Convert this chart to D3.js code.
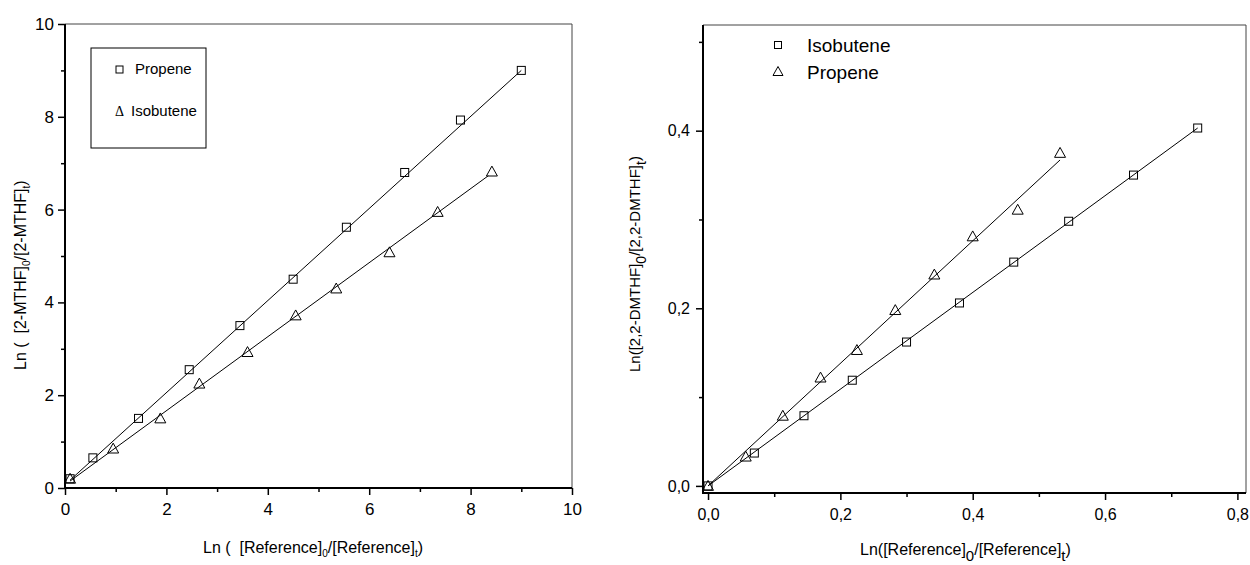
<!DOCTYPE html>
<html>
<head>
<meta charset="utf-8">
<script src="https://d3js.org/d3.v7.min.js"></script>
<style>
  body { margin: 0; background: #fff; }
  svg { display: block; font-family: "Liberation Sans", Arial, sans-serif; }
</style>
</head>
<body>
<svg id="chart" width="1250" height="565"></svg>
<script>
// ---- left panel data: Ln([2-MTHF]0/[2-MTHF]t) vs Ln([Ref]0/[Ref]t)
const leftPropeneX = [0.1, 0.55, 1.45, 2.45, 3.45, 4.5, 5.55, 6.7, 7.8, 9.0];
const leftPropeneY = [0.2, 0.65, 1.5, 2.55, 3.5, 4.5, 5.62, 6.8, 7.93, 9.0];
const leftIsobuteneX = [0.1, 0.95, 1.88, 2.65, 3.6, 4.55, 5.35, 6.4, 7.35, 8.42];
const leftIsobuteneY = [0.2, 0.85, 1.5, 2.25, 2.93, 3.72, 4.3, 5.08, 5.95, 6.82];
const leftPropeneFit = [[0.1, 0.17], [9.0, 9.0]];
const leftIsobuteneFit = [[0.1, 0.15], [8.35, 6.73]];
const leftXTicks = [0, 2, 4, 6, 8, 10];
const leftXMinor = [1, 3, 5, 7, 9];
const leftYTicks = [0, 2, 4, 6, 8, 10];
const leftYMinor = [1, 3, 5, 7, 9];

// ---- right panel data: Ln([2,2-DMTHF]0/[2,2-DMTHF]t)
const rightIsobuteneX = [0, 0.07, 0.145, 0.218, 0.3, 0.38, 0.462, 0.545, 0.643, 0.74];
const rightIsobuteneY = [0, 0.037, 0.079, 0.119, 0.162, 0.206, 0.252, 0.298, 0.35, 0.403];
const rightPropeneX = [0, 0.057, 0.113, 0.17, 0.225, 0.283, 0.342, 0.4, 0.468, 0.532];
const rightPropeneY = [0, 0.033, 0.079, 0.122, 0.153, 0.198, 0.238, 0.281, 0.311, 0.375];
const rightIsobuteneFit = [[0, 0], [0.74, 0.403]];
const rightPropeneFit = [[0, 0], [0.532, 0.367]];
const rightXTicks = [0, 0.2, 0.4, 0.6, 0.8];
const rightXMinor = [0.1, 0.3, 0.5, 0.7];
const rightYTicks = [0, 0.2, 0.4];
const rightYMinor = [0.1, 0.3, 0.5];

const svg = d3.select("#chart");
const zip = (xs, ys) => xs.map((x, i) => [x, ys[i]]);

function squareMarks(g, pts, x, y, s) {
  g.selectAll(null).data(pts).join("rect")
    .attr("x", d => x(d[0]) - s / 2).attr("y", d => y(d[1]) - s / 2)
    .attr("width", s).attr("height", s)
    .attr("fill", "none").attr("stroke", "#000").attr("stroke-width", 1);
}
function triangleMarks(g, pts, x, y, w) {
  const h = w * 0.9;
  g.selectAll(null).data(pts).join("path")
    .attr("d", d => {
      const cx = x(d[0]), cy = y(d[1]);
      return `M${cx},${cy - h * 0.55}L${cx + w / 2},${cy + h * 0.45}L${cx - w / 2},${cy + h * 0.45}Z`;
    })
    .attr("fill", "none").attr("stroke", "#000").attr("stroke-width", 1);
}
function fitLine(g, pts, x, y) {
  g.append("path").datum(pts)
    .attr("d", d3.line().x(d => x(d[0])).y(d => y(d[1])))
    .attr("fill", "none").attr("stroke", "#000").attr("stroke-width", 1);
}

function drawAxes(cfg) {
  const { x, y, xTicks, xMinor, yTicks, yMinor, fmt, fontSize, xPad, yPad } = cfg;
  const [x0, x1] = x.range();
  const [y0, y1] = y.range();
  const g = svg.append("g");
  // top + right frame, thin grey
  g.append("path").attr("d", `M${x0},${y1}H${x1}V${y0}`)
    .attr("fill", "none").attr("stroke", "#444").attr("stroke-width", 1);

  const bottom = g.append("g").attr("transform", `translate(0,${y0})`);
  bottom.call(d3.axisBottom(x).tickValues(xTicks).tickFormat(fmt).tickSize(7).tickPadding(xPad));
  bottom.append("g").call(d3.axisBottom(x).tickValues(xMinor).tickFormat("").tickSize(4))
    .select(".domain").remove();
  const left = g.append("g").attr("transform", `translate(${x0},0)`);
  left.call(d3.axisLeft(y).tickValues(yTicks).tickFormat(fmt).tickSize(7).tickPadding(yPad));
  left.append("g").call(d3.axisLeft(y).tickValues(yMinor).tickFormat("").tickSize(4))
    .select(".domain").remove();

  g.selectAll(".domain").attr("stroke-width", 2).attr("d", null);
  bottom.select(".domain").attr("d", `M${x0 - 1},0H${x1}`);
  left.select(".domain").attr("d", `M0,${y0 + 1}V${y1}`);
  g.selectAll(".tick line").attr("stroke-width", 1.5);
  g.selectAll(".tick text").style("font-size", fontSize + "px")
    .style("font-family", "'Liberation Sans', Arial, sans-serif").attr("fill", "#000");
}

// ===== left panel =====
const xL = d3.scaleLinear().domain([0, 10]).range([65, 572]);
const yL = d3.scaleLinear().domain([0, 10]).range([488, 24]);
drawAxes({ x: xL, y: yL, xTicks: leftXTicks, xMinor: leftXMinor, yTicks: leftYTicks, yMinor: leftYMinor,
  fmt: d3.format("d"), fontSize: 17, xPad: 8, yPad: 4 });

const gL = svg.append("g");
fitLine(gL, leftPropeneFit, xL, yL);
fitLine(gL, leftIsobuteneFit, xL, yL);
squareMarks(gL, zip(leftPropeneX, leftPropeneY), xL, yL, 8);
triangleMarks(gL, zip(leftIsobuteneX, leftIsobuteneY), xL, yL, 11);

// legend box
svg.append("rect").attr("x", 91).attr("y", 48).attr("width", 115).attr("height", 100)
  .attr("fill", "none").attr("stroke", "#000").attr("stroke-width", 1);
svg.append("rect").attr("x", 116).attr("y", 66).attr("width", 7).attr("height", 7)
  .attr("fill", "none").attr("stroke", "#000");
svg.append("text").attr("x", 135).attr("y", 74).text("Propene").style("font-size", "15px");
svg.append("text").attr("x", 115).attr("y", 116).text("\u0394")
  .style("font-family", "'Liberation Serif', serif").style("font-size", "14px");
svg.append("text").attr("x", 131).attr("y", 116).text("Isobutene").style("font-size", "15px");

// left axis titles
const tl = svg.append("text").attr("x", 203).attr("y", 553).style("font-size", "16px");
tl.append("tspan").text("Ln (\u00a0\u00a0[Reference]");
tl.append("tspan").text("0").attr("dy", 4).style("font-size", "10px");
tl.append("tspan").text("/[Reference]").attr("dy", -4);
tl.append("tspan").text("t").attr("dy", 4).style("font-size", "10px");
tl.append("tspan").text(")").attr("dy", -4);

const yl = svg.append("text").attr("transform", "translate(26,370) rotate(-90)").style("font-size", "16px");
yl.append("tspan").text("Ln (\u00a0\u00a0[2-MTHF]");
yl.append("tspan").text("0").attr("dy", 4).style("font-size", "10px");
yl.append("tspan").text("/[2-MTHF]").attr("dy", -4);
yl.append("tspan").text("t").attr("dy", 4).style("font-size", "10px");
yl.append("tspan").text(")").attr("dy", -4);

// ===== right panel =====
const xR = d3.scaleLinear().domain([-0.0076, 0.813]).range([703, 1246]);
const yR = d3.scaleLinear().domain([-0.008, 0.519]).range([493, 25]);
drawAxes({ x: xR, y: yR, xTicks: rightXTicks, xMinor: rightXMinor, yTicks: rightYTicks, yMinor: rightYMinor,
  fmt: d => d3.format(".1f")(d).replace(".", ","), fontSize: 16, xPad: 9, yPad: 6 });

const gR = svg.append("g");
fitLine(gR, rightIsobuteneFit, xR, yR);
fitLine(gR, rightPropeneFit, xR, yR);
squareMarks(gR, zip(rightIsobuteneX, rightIsobuteneY), xR, yR, 8);
triangleMarks(gR, zip(rightPropeneX, rightPropeneY), xR, yR, 11);

// legend (no box)
svg.append("rect").attr("x", 774.5).attr("y", 41.5).attr("width", 7).attr("height", 7)
  .attr("fill", "none").attr("stroke", "#000");
svg.append("path").attr("d", "M778,66.5L783,75.5L773,75.5Z").attr("fill", "none").attr("stroke", "#000");
svg.append("text").attr("x", 807).attr("y", 52).text("Isobutene").style("font-size", "19px");
svg.append("text").attr("x", 807).attr("y", 79).text("Propene").style("font-size", "19px");

const tr = svg.append("text").attr("x", 860).attr("y", 555).style("font-size", "16px");
tr.append("tspan").text("Ln([Reference]");
tr.append("tspan").text("0").attr("dy", 6).style("font-size", "15px");
tr.append("tspan").text("/[Reference]").attr("dy", -6);
tr.append("tspan").text("t").attr("dy", 6).style("font-size", "15px");
tr.append("tspan").text(")").attr("dy", -6);

const yr = svg.append("text").attr("transform", "translate(640,372) rotate(-90)").style("font-size", "15px");
yr.append("tspan").text("Ln([2,2-DMTHF]");
yr.append("tspan").text("0").attr("dy", 6).style("font-size", "14px");
yr.append("tspan").text("/[2,2-DMTHF]").attr("dy", -6);
yr.append("tspan").text("t").attr("dy", 6).style("font-size", "14px");
yr.append("tspan").text(")").attr("dy", -6);
</script>
</body>
</html>
